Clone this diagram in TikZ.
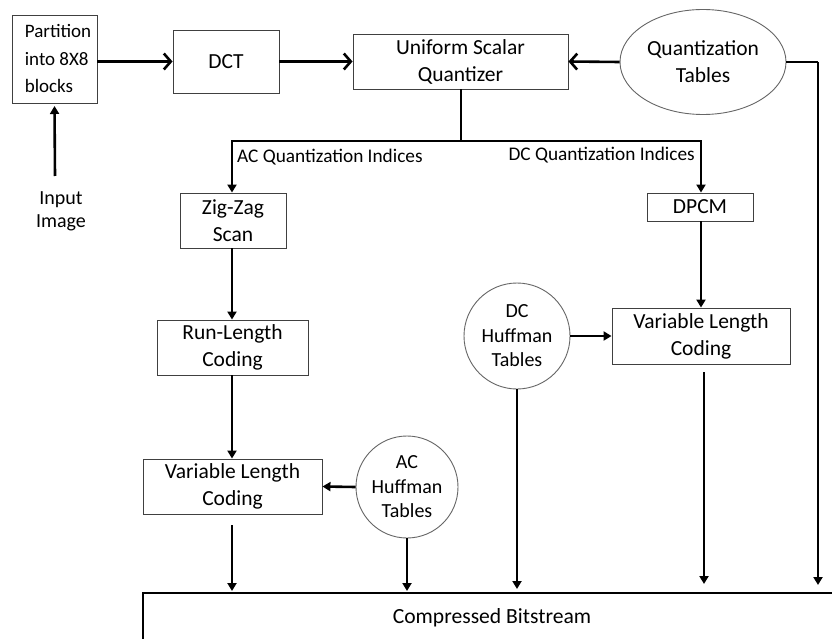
\documentclass[tikz,border=0pt]{standalone}
\usepackage{fontspec}
\setmainfont{Carlito}
\usetikzlibrary{arrows.meta,shapes.geometric}
\begin{document}
\begin{tikzpicture}[x=1pt,y=-1pt,
  box/.style={draw=black!75,line width=0.9pt,rectangle,inner sep=0pt,align=center,font=\fontsize{21.5}{27}\selectfont},
  roundbox/.style={draw=black!60,line width=0.9pt,circle,inner sep=0pt,align=center,font=\fontsize{20}{24.5}\selectfont},
  lbl/.style={inner sep=0pt,font=\fontsize{19.3}{23}\selectfont},
  conn/.style={line width=2.6pt,-{Triangle[length=8pt,width=9pt]}},
  chev/.style={line width=2.6pt,-{Straight Barb[length=7pt,width=16pt,line width=2.6pt]}},
  plain/.style={line width=2.6pt}]
\useasboundingbox[fill=white] (0,0) rectangle (832,639);
% nodes
\node[box,minimum width=85pt,minimum height=88pt,align=left,font=\fontsize{19}{27.5}\selectfont] (part) at (54.5,59) {\hspace*{7pt}Partition\\\hspace*{7pt}into 8X8\\\hspace*{7pt}blocks};
\node[box,minimum width=106pt,minimum height=63pt] (dct) at (226,61.5) {DCT};
\node[box,minimum width=215pt,minimum height=55pt] (usq) at (460.5,61.5) {Uniform Scalar\\Quantizer};
\node[draw=black!60,line width=0.9pt,ellipse,inner sep=0pt,minimum width=166pt,minimum height=105pt,align=center,font=\fontsize{21.5}{27}\selectfont] (qt) at (703,62) {Quantization\\Tables};
\node[lbl,align=center,font=\fontsize{20}{23}\selectfont] (inp) at (61,211) {Input\\Image};
\node[box,minimum width=106pt,minimum height=55pt] (zz) at (233,220.5) {Zig-Zag\\Scan};
\node[box,minimum width=106pt,minimum height=28pt] (dpcm) at (700,207) {DPCM};
\node[box,minimum width=151pt,minimum height=55pt] (rlc) at (232.5,347.5) {Run-Length\\Coding};
\node[box,minimum width=179pt,minimum height=55pt] (vlcl) at (232.5,486.5) {Variable Length\\Coding};
\node[roundbox,minimum size=102pt] (ach) at (407,487) {AC\\Huffman\\Tables};
\node[roundbox,minimum size=106pt] (dch) at (517,336) {DC\\Huffman\\Tables};
\node[box,minimum width=178pt,minimum height=56pt] (vlcr) at (701,336) {Variable Length\\Coding};
\node[lbl,anchor=west] (acl) at (237,157) {AC Quantization Indices};
\node[lbl,anchor=east] (dcl) at (695,155) {DC Quantization Indices};
\node[font=\fontsize{21.6}{24}\selectfont,inner sep=0pt] (bits) at (492,618) {Compressed Bitstream};
% coordinates
\coordinate (j) at (461,141);
\coordinate (inb) at (55,176);
\coordinate (vlo) at (232,525);
\coordinate (vro) at (704,372);
\coordinate (qtc) at (818,62);
\coordinate (b1) at (232,591);
\coordinate (b2) at (407,591);
\coordinate (b3) at (517,589);
\coordinate (b4) at (704,584);
\coordinate (b5) at (818,585);
\coordinate (busl) at (143,639);
\coordinate (busc) at (143,593);
\coordinate (busr) at (832,593);
% connectors
\draw[conn] (inb) -- (part.south |- 0,106);
\draw[chev] (part.east |- dct) -- (dct.west);
\draw[chev] (dct.east) -- (usq.west);
\draw[chev] (qt.west) -- (usq.east);
\draw[plain] (usq.south -| j) -- (j);
\draw[conn] (j) -| (zz.north -| 232,0);
\draw[conn] (j) -| (dpcm.north -| 701,0);
\draw[conn] (zz.south -| 232,0) -- (rlc.north -| 232,0);
\draw[conn] (rlc.south -| 232,0) -- (vlcl.north -| 232,0);
\draw[conn] (ach.west) -- (vlcl.east);
\draw[conn] (dch.east) -- (vlcr.west);
\draw[conn] (dpcm.south -| 701,0) -- (vlcr.north -| 701,0);
\draw[conn] (vlo) -- (b1);
\draw[conn] (ach.south) -- (b2);
\draw[conn] (dch.south) -- (b3);
\draw[conn] (vro) -- (b4);
\draw[plain] (qt.east) -- (qtc);
\draw[conn] (qtc) -- (b5);
\draw[line width=2.6pt] (busl) -- (busc) -- (busr);
\end{tikzpicture}
\end{document}
